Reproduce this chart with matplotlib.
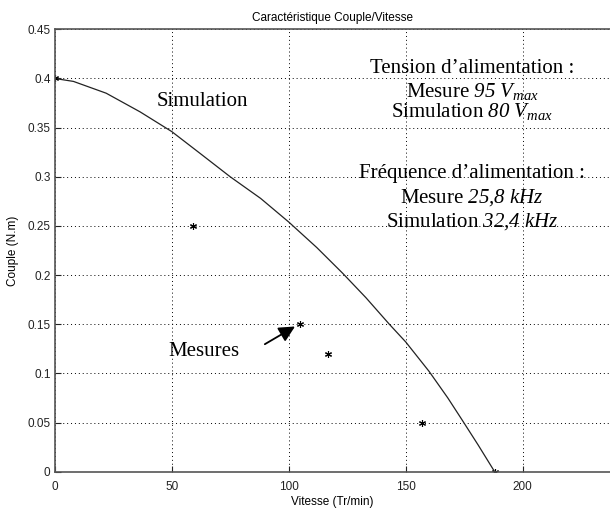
import matplotlib
matplotlib.use("Agg")
import matplotlib.pyplot as plt
import numpy as np

# Data
sim_speed = [0, 8, 22, 36.5, 50, 62, 75, 88, 100, 112, 123, 133, 143, 150, 160, 168, 174, 181, 188]
sim_torque = [0.400, 0.397, 0.385, 0.366, 0.346, 0.324, 0.300, 0.278, 0.254, 0.228, 0.202, 0.177, 0.150, 0.132, 0.102, 0.075, 0.053, 0.027, 0.000]
mes_speed = [0, 59, 105, 117, 157, 188]
mes_torque = [0.40, 0.25, 0.15, 0.12, 0.05, 0.00]
xticks = [0, 50, 100, 150, 200]
yticks = [0, 0.05, 0.1, 0.15, 0.2, 0.25, 0.3, 0.35, 0.4, 0.45]
ytick_labels = ["0", "0.05", "0.1", "0.15", "0.2", "0.25", "0.3", "0.35", "0.4", "0.45"]

plt.rcParams['mathtext.fontset'] = 'custom'
plt.rcParams['mathtext.rm'] = 'Liberation Serif:italic'
plt.rcParams['mathtext.it'] = 'Liberation Serif:italic'

fig = plt.figure(figsize=(6.10, 5.09), dpi=100)
ax = fig.add_axes([54.7/610, 1 - 471.7/509, 1 - 54.7/610, (471.7 - 29.3)/509])

ax.plot(sim_speed, sim_torque, color='#222222', lw=0.9)
ax.plot(mes_speed, mes_torque, linestyle='none', marker=(6, 2, 0), color='k',
        markersize=5, markeredgewidth=0.8)

ax.set_xlim(0, 237.3)
ax.set_ylim(0, 0.45)
ax.set_xticks(xticks)
ax.set_xticklabels([str(v) for v in xticks])
ax.set_yticks(yticks)
ax.set_yticklabels(ytick_labels)
ax.grid(True, linestyle=(0, (1, 3)), color='k', lw=0.7)
ax.tick_params(direction='in', length=4, width=0.8, labelsize=8.5, colors='#222222')
ax.tick_params(axis='x', pad=7)
ax.tick_params(axis='y', pad=3)
for lab in ax.get_xticklabels() + ax.get_yticklabels():
    lab.set_fontfamily('Liberation Sans')
for s in ['top', 'bottom', 'left']:
    ax.spines[s].set_color('#555555')
    ax.spines[s].set_linewidth(1.2)
ax.spines['right'].set_visible(False)

ax.set_title("Caractéristique Couple/Vitesse", fontsize=8.5, family='Liberation Sans', pad=6)
ax.set_xlabel("Vitesse (Tr/min)", fontsize=8.5, family='Liberation Sans', labelpad=2)
ax.set_ylabel("Couple (N.m)", fontsize=8.5, family='Liberation Sans', labelpad=6)

serif = dict(family='Liberation Serif', fontsize=15, ha='center', va='baseline')
ax.text(63, 0.372, "Simulation", **serif)
ax.text(63.8, 0.118, "Mesures", **serif)
xc = 178.3
ax.text(xc, 0.4057, "Tension d’alimentation :", **serif)
ax.text(xc, 0.3809, r"Mesure $95\ V_{max}$", **serif)
ax.text(xc, 0.3605, r"Simulation $80\ V_{max}$", **serif)
ax.text(xc, 0.2988, "Fréquence d’alimentation :", **serif)
ax.text(xc, 0.2739, r"Mesure $25{,}8\ kHz$", **serif)
ax.text(xc, 0.2489, r"Simulation $32{,}4\ kHz$", **serif)

ax.annotate('', xy=(102.7, 0.1477), xytext=(89.8, 0.1297),
            arrowprops=dict(arrowstyle='-|>', mutation_scale=24, color='k', lw=1.3,
                            shrinkA=0, shrinkB=0))

fig.savefig("out.png", dpi=100)
